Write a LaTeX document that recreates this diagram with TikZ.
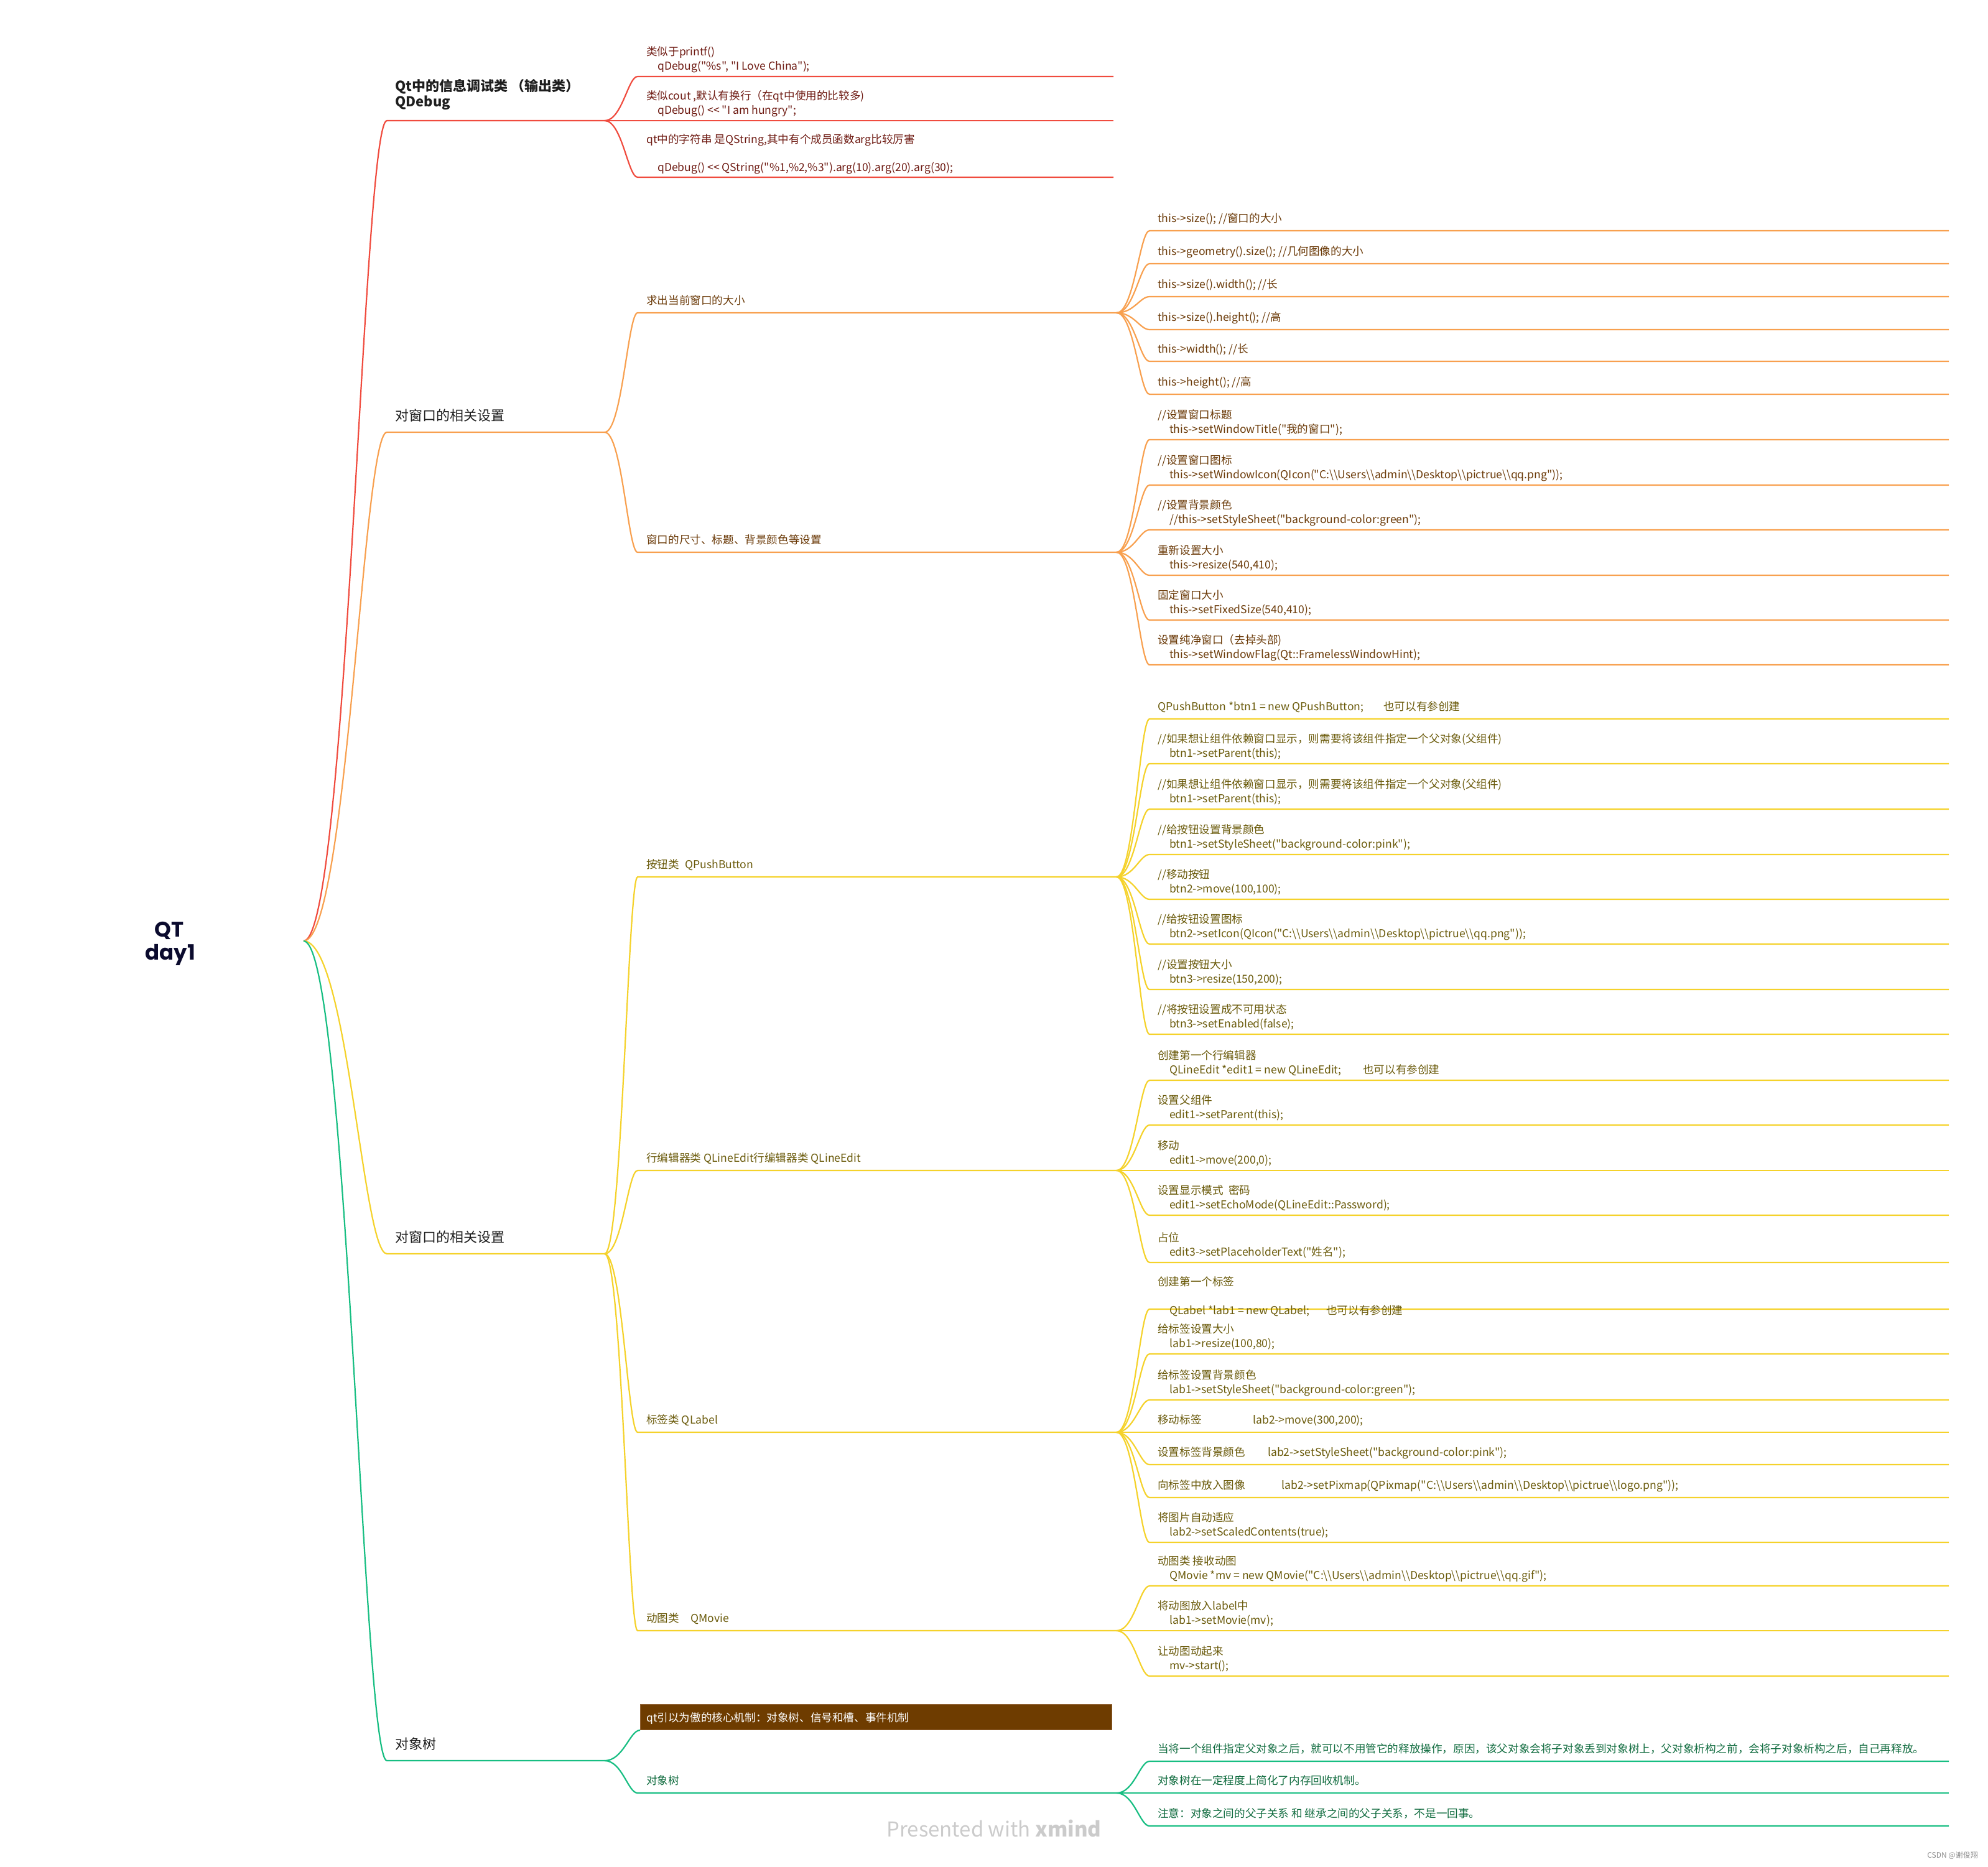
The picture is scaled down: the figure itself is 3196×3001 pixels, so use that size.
\documentclass[tikz,border=0pt]{standalone}
\usepackage{fontspec}
\setmainfont{Noto Sans CJK SC}[Ligatures=TeXOff]
\newfontfamily\rootfont{Poppins}
\usetikzlibrary{calc}
\definecolor{cR}{HTML}{F04B3E}
\definecolor{cO}{HTML}{F8A04F}
\definecolor{cY}{HTML}{F5D22B}
\definecolor{cG}{HTML}{17BE82}
\definecolor{tR}{HTML}{6E1A12}
\definecolor{tO}{HTML}{6B3A08}
\definecolor{tY}{HTML}{6A5A0A}
\definecolor{tG}{HTML}{0F6B3E}
\definecolor{boxfill}{HTML}{6E3C00}
\definecolor{boxedge}{HTML}{94663A}
\definecolor{rootc}{HTML}{0B0B2E}
\definecolor{lvl1}{HTML}{1E1E1E}
\definecolor{wmc}{HTML}{CBCBCB}
\newcommand\dbs{\textbackslash\textbackslash}
\newcommand\shl{<\kern0pt<}
% level-3 single line
\newcommand\Lone[5]{%
 \coordinate (#1u) at (1848,#3);
 \coordinate (#1e) at (3133,#3);
 \draw[line#4] (#2) to[brc] (#1u) -- (#1e);
 \node[txt,text#4,anchor=base west] (#1) at (1861,#3-14) {#5};}
% level-3 two lines
\newcommand\Ltwo[6]{%
 \coordinate (#1u) at (1848,#3);
 \coordinate (#1e) at (3133,#3);
 \draw[line#4] (#2) to[brc] (#1u) -- (#1e);
 \node[txt,text#4,anchor=base west] (#1) at (1861,#3-34) {#5};
 \node[txt,text#4,anchor=base west] (#1b) at (1880,#3-11) {#6};}
% level-2 single line
\newcommand\Mone[6]{%
 \coordinate (#1u) at (1025,#3);
 \coordinate (#1e) at (#5,#3);
 \draw[line#4] (#2) to[brc] (#1u) -- (#1e);
 \node[txt,text#4,anchor=base west] (#1) at (1039,#3-14) {#6};}
% level-2 two lines
\newcommand\Mtwo[7]{%
 \coordinate (#1u) at (1025,#3);
 \coordinate (#1e) at (#5,#3);
 \draw[line#4] (#2) to[brc] (#1u) -- (#1e);
 \node[txt,text#4,anchor=base west] (#1) at (1039,#3-34) {#6};
 \node[txt,text#4,anchor=base west] (#1b) at (1057,#3-11) {#7};}
\begin{document}
\begin{tikzpicture}[x=1pt,y=-1pt,
  brc/.style={to path={.. controls ($(\tikztostart)!0.53!(\tikztostart -| \tikztotarget)$) and ($(\tikztotarget)!0.29!(\tikztotarget -| \tikztostart)$) .. (\tikztotarget) \tikztonodes}},
  lineR/.style={draw=cR, line width=2.2pt},
  lineO/.style={draw=cO, line width=2.2pt},
  lineY/.style={draw=cY, line width=2.2pt},
  lineG/.style={draw=cG, line width=2.2pt},
  textR/.style={text=tR}, textO/.style={text=tO},
  textY/.style={text=tY}, textG/.style={text=tG},
  txt/.style={font=\fontsize{17.6}{21}\selectfont, inner sep=0pt},
  lv1/.style={font=\fontsize{22}{26}\selectfont, inner sep=0pt, text=lvl1, anchor=base west},
  rootsty/.style={font=\rootfont\bfseries\fontsize{34}{38}\selectfont, text=rootc, inner sep=0pt, anchor=base}]
\fill[white] (0,0) rectangle (3196,3001);
\useasboundingbox (0,0) rectangle (3196,3001);

% root
\node[rootsty] (root) at (272,1506) {QT};
\node[rootsty] (rootb) at (274,1543) {day1};
\coordinate (rj) at (488,1513);

% ---------- red: QDebug ----------
\coordinate (aRu) at (622,194); \coordinate (jR) at (972,194);
\draw[lineR] (rj) to[brc] (aRu) -- (jR);
\node[lv1,font=\bfseries\fontsize{22}{26}\selectfont] (aR) at (635,146) {Qt中的信息调试类 （输出类）};
\node[lv1,font=\bfseries\fontsize{22}{26}\selectfont] (aRb) at (635,171) {QDebug};
\Mtwo{r1}{jR}{123}{R}{1790}{类似于printf()}{qDebug("\%s", "I Love China");}
\Mtwo{r2}{jR}{194}{R}{1790}{类似cout ,默认有换行（在qt中使用的比较多)}{qDebug() \shl{} "I am hungry";}
\coordinate (r3u) at (1025,285); \coordinate (r3e) at (1790,285);
\draw[lineR] (jR) to[brc] (r3u) -- (r3e);
\node[txt,textR,anchor=base west] (r3) at (1039,230) {qt中的字符串 是QString,其中有个成员函数arg比较厉害};
\node[txt,textR,anchor=base west] (r3b) at (1057,275) {qDebug() \shl{} QString("\%1,\%2,\%3").arg(10).arg(20).arg(30);};

% ---------- orange ----------
\coordinate (aOu) at (622,695); \coordinate (jO) at (972,695);
\draw[lineO] (rj) to[brc] (aOu) -- (jO);
\node[lv1] (aO) at (635,676) {对窗口的相关设置};
\Mone{oA}{jO}{503}{O}{1795}{求出当前窗口的大小}
\Mone{oB}{jO}{888}{O}{1795}{窗口的尺寸、标题、背景颜色等设置}
\Lone{oA1}{oAe}{371}{O}{this->size(); //窗口的大小}
\Lone{oA2}{oAe}{424}{O}{this->geometry().size(); //几何图像的大小}
\Lone{oA3}{oAe}{477}{O}{this->size().width(); //长}
\Lone{oA4}{oAe}{530}{O}{this->size().height(); //高}
\Lone{oA5}{oAe}{581}{O}{this->width(); //长}
\Lone{oA6}{oAe}{634}{O}{this->height(); //高}
\Ltwo{oB1}{oBe}{707}{O}{//设置窗口标题}{this->setWindowTitle("我的窗口");}
\Ltwo{oB2}{oBe}{780}{O}{//设置窗口图标}{this->setWindowIcon(QIcon("C:\dbs Users\dbs admin\dbs Desktop\dbs pictrue\dbs qq.png"));}
\Ltwo{oB3}{oBe}{852}{O}{//设置背景颜色}{//this->setStyleSheet("background-color:green");}
\Ltwo{oB4}{oBe}{925}{O}{重新设置大小}{this->resize(540,410);}
\Ltwo{oB5}{oBe}{997}{O}{固定窗口大小}{this->setFixedSize(540,410);}
\Ltwo{oB6}{oBe}{1069}{O}{设置纯净窗口（去掉头部)}{this->setWindowFlag(Qt::FramelessWindowHint);}

% ---------- yellow ----------
\coordinate (aYu) at (622,2016); \coordinate (jY) at (972,2016);
\draw[lineY] (rj) to[brc] (aYu) -- (jY);
\node[lv1] (aY) at (635,1997) {对窗口的相关设置};
\Mone{yA}{jY}{1410}{Y}{1795}{\makebox[62pt][l]{按钮类}QPushButton}
\Mone{yB}{jY}{1882}{Y}{1795}{行编辑器类 QLineEdit行编辑器类 QLineEdit}
\Mone{yC}{jY}{2303}{Y}{1795}{标签类 QLabel}
\Mone{yD}{jY}{2622}{Y}{1795}{\makebox[71pt][l]{动图类}QMovie}
% push button
\Lone{pb1}{yAe}{1156}{Y}{\makebox[363pt][l]{QPushButton *btn1 = new QPushButton;}也可以有参创建}
\Ltwo{pb2}{yAe}{1228}{Y}{//如果想让组件依赖窗口显示，则需要将该组件指定一个父对象(父组件)}{btn1->setParent(this);}
\Ltwo{pb3}{yAe}{1301}{Y}{//如果想让组件依赖窗口显示，则需要将该组件指定一个父对象(父组件)}{btn1->setParent(this);}
\Ltwo{pb4}{yAe}{1374}{Y}{//给按钮设置背景颜色}{btn1->setStyleSheet("background-color:pink");}
\Ltwo{pb5}{yAe}{1446}{Y}{//移动按钮}{btn2->move(100,100);}
\Ltwo{pb6}{yAe}{1518}{Y}{//给按钮设置图标}{btn2->setIcon(QIcon("C:\dbs Users\dbs admin\dbs Desktop\dbs pictrue\dbs qq.png"));}
\Ltwo{pb7}{yAe}{1591}{Y}{//设置按钮大小}{btn3->resize(150,200);}
\Ltwo{pb8}{yAe}{1663}{Y}{//将按钮设置成不可用状态}{btn3->setEnabled(false);}
% line edit
\Ltwo{le1}{yBe}{1737}{Y}{创建第一个行编辑器}{\makebox[311pt][l]{QLineEdit *edit1 = new QLineEdit;}也可以有参创建}
\Ltwo{le2}{yBe}{1809}{Y}{设置父组件}{edit1->setParent(this);}
\Ltwo{le3}{yBe}{1882}{Y}{移动}{edit1->move(200,0);}
\Ltwo{le4}{yBe}{1954}{Y}{\makebox[114pt][l]{设置显示模式}密码}{edit1->setEchoMode(QLineEdit::Password);}
\Ltwo{le5}{yBe}{2030}{Y}{占位}{edit3->setPlaceholderText("姓名");}
% label
\coordinate (lb1u) at (1848,2105); \coordinate (lb1e) at (3133,2105);
\draw[lineY] (yCe) to[brc] (lb1u) -- (lb1e);
\node[txt,textY,anchor=base west] (lb1) at (1861,2067) {创建第一个标签};
\node[txt,textY,anchor=base west] (lb1b) at (1880,2113) {\makebox[252pt][l]{QLabel *lab1 = new QLabel;}也可以有参创建};
\Ltwo{lb2}{yCe}{2177}{Y}{给标签设置大小}{lab1->resize(100,80);}
\Ltwo{lb3}{yCe}{2251}{Y}{给标签设置背景颜色}{lab1->setStyleSheet("background-color:green");}
\Lone{lb4}{yCe}{2303}{Y}{\makebox[153pt][l]{移动标签}lab2->move(300,200);}
\Lone{lb5}{yCe}{2355}{Y}{\makebox[177pt][l]{设置标签背景颜色}lab2->setStyleSheet("background-color:pink");}
\Lone{lb6}{yCe}{2408}{Y}{\makebox[199pt][l]{向标签中放入图像}lab2->setPixmap(QPixmap("C:\dbs Users\dbs admin\dbs Desktop\dbs pictrue\dbs logo.png"));}
\Ltwo{lb7}{yCe}{2480}{Y}{将图片自动适应}{lab2->setScaledContents(true);}
% movie
\Ltwo{mv1}{yDe}{2550}{Y}{动图类 接收动图}{QMovie *mv = new QMovie("C:\dbs Users\dbs admin\dbs Desktop\dbs pictrue\dbs qq.gif");}
\Ltwo{mv2}{yDe}{2622}{Y}{将动图放入label中}{lab1->setMovie(mv);}
\Ltwo{mv3}{yDe}{2695}{Y}{让动图动起来}{mv->start();}

% ---------- green ----------
\coordinate (aGu) at (622,2831); \coordinate (jG) at (972,2831);
\draw[lineG] (rj) to[brc] (aGu) -- (jG);
\node[lv1] (aG) at (635,2812) {对象树};
\node[draw=boxedge, fill=boxfill, line width=1.2pt, minimum width=758pt, minimum height=41pt, inner sep=0pt, anchor=south west] (gbox) at (1029,2782) {};
\draw[lineG] (jG) to[brc] (gbox.south west);
\node[txt, text=white, anchor=base west] (gboxt) at (1039,2768) {qt引以为傲的核心机制：对象树、信号和槽、事件机制};
\Mone{gB}{jG}{2883}{G}{1795}{对象树}
\Lone{g1}{gBe}{2832}{G}{当将一个组件指定父对象之后，就可以不用管它的释放操作，原因，该父对象会将子对象丢到对象树上，父对象析构之前，会将子对象析构之后，自己再释放。}
\Lone{g2}{gBe}{2883}{G}{对象树在一定程度上简化了内存回收机制。}
\Lone{g3}{gBe}{2936}{G}{注意：对象之间的父子关系 和 继承之间的父子关系，不是一回事。}

% watermark and credit
\node[font=\fontsize{33}{36}\selectfont, text=wmc, inner sep=0pt, anchor=base] (wm) at (1598,2953) {Presented with \textbf{xmind}};
\node[font=\fontsize{12}{14}\selectfont, text=black!45, inner sep=0pt, anchor=base east] (csdn) at (3180,2987) {CSDN @谢俊翔};
\end{tikzpicture}
\end{document}
